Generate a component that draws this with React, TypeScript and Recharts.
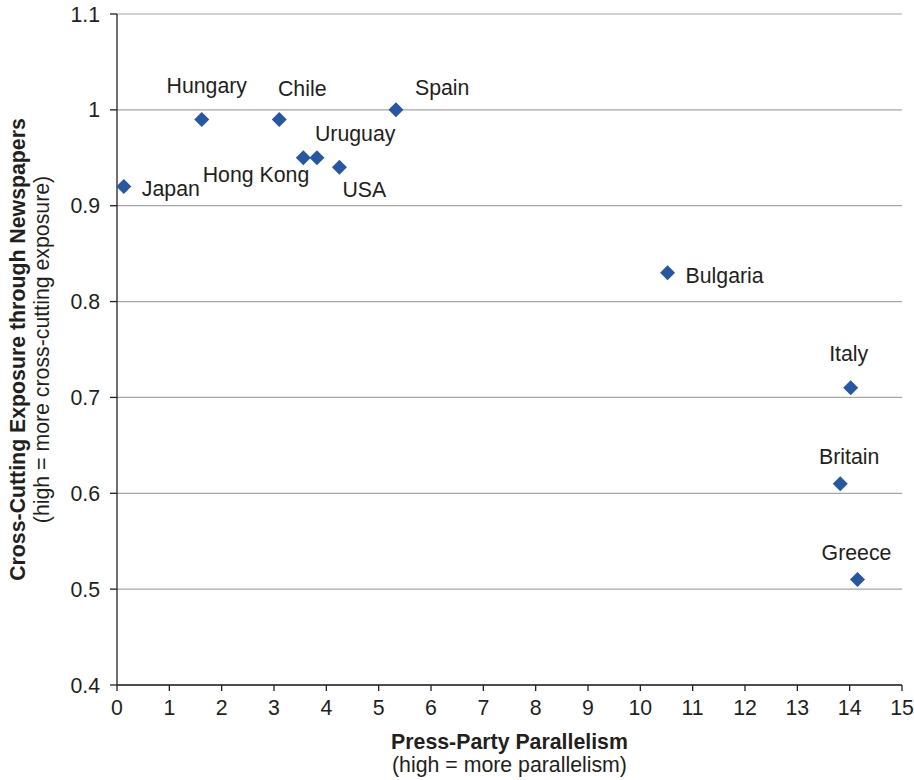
import { ScatterChart, Scatter, XAxis, YAxis, CartesianGrid, Label } from 'recharts'

const countries = ['Japan', 'Hungary', 'Chile', 'Hong Kong', 'Uruguay', 'USA', 'Spain', 'Bulgaria', 'Italy', 'Britain', 'Greece']
const parallelism = [0.13, 1.62, 3.1, 3.56, 3.82, 4.25, 5.33, 10.52, 14.02, 13.82, 14.15]
const exposure = [0.92, 0.99, 0.99, 0.95, 0.95, 0.94, 1.0, 0.83, 0.71, 0.61, 0.51]

const xTicks = [0, 1, 2, 3, 4, 5, 6, 7, 8, 9, 10, 11, 12, 13, 14, 15]
const yTicks = [0.4, 0.5, 0.6, 0.7, 0.8, 0.9, 1, 1.1]

const data = countries.map((name, i) => ({ name, x: parallelism[i], y: exposure[i] }))

// where each country's name sits relative to its marker
const labelPlacement: Record<string, { dx: number; dy: number; anchor: 'start' | 'middle' | 'end' }> = {
  Japan: { dx: 18, dy: 2, anchor: 'start' },
  Hungary: { dx: 5, dy: -33, anchor: 'middle' },
  Chile: { dx: 23, dy: -30, anchor: 'middle' },
  'Hong Kong': { dx: 6, dy: 17, anchor: 'end' },
  Uruguay: { dx: -2, dy: -24, anchor: 'start' },
  USA: { dx: 3, dy: 23, anchor: 'start' },
  Spain: { dx: 19, dy: -22, anchor: 'start' },
  Bulgaria: { dx: 18, dy: 3, anchor: 'start' },
  Italy: { dx: -2, dy: -34, anchor: 'middle' },
  Britain: { dx: 9, dy: -27, anchor: 'middle' },
  Greece: { dx: -1, dy: -27, anchor: 'middle' },
}

const FONT = '"Liberation Sans", Arial, sans-serif'
const SIZE = 21.3
const TEXT = '#231f20'
const MARK = '#2557a5'

const Diamond = (props: any) => {
  const { cx, cy, payload } = props
  const p = labelPlacement[payload.name]
  const r = 7.5
  return (
    <g>
      <polygon points={`${cx},${cy - r} ${cx + r},${cy} ${cx},${cy + r} ${cx - r},${cy}`} fill={MARK} />
      <text
        x={cx + p.dx}
        y={cy + p.dy}
        textAnchor={p.anchor}
        dominantBaseline="central"
        fontFamily={FONT}
        fontSize={SIZE}
        fill={TEXT}
      >
        {payload.name}
      </text>
    </g>
  )
}

const XTitle = (props: any) => {
  const { x, y, width } = props.viewBox
  const cx = x + width / 2
  return (
    <g fontFamily={FONT} fill={TEXT} textAnchor="middle">
      <text x={cx} y={y + 64} fontSize={SIZE} fontWeight="bold">Press-Party Parallelism</text>
      <text x={cx} y={y + 87} fontSize={SIZE}>(high = more parallelism)</text>
    </g>
  )
}

const YTitle = (props: any) => {
  const { y, height } = props.viewBox
  const cy = y + height / 2
  return (
    <g fontFamily={FONT} fill={TEXT} textAnchor="middle" dominantBaseline="central">
      <text x={18} y={cy} transform={`rotate(-90 18 ${cy})`} fontSize={SIZE} fontWeight="bold">
        Cross-Cutting Exposure through Newspapers
      </text>
      <text x={42} y={cy} transform={`rotate(-90 42 ${cy})`} fontSize={SIZE}>
        (high = more cross-cutting exposure)
      </text>
    </g>
  )
}

export default function App() {
  return (
    <div style={{ position: 'absolute', left: 0, top: 0, width: 914, height: 780, overflow: 'hidden' }}>
      <ScatterChart width={914} height={780} margin={{ top: 14, right: 12, bottom: 0, left: 0 }}>
        <CartesianGrid vertical={false} stroke="#a6a6a6" strokeWidth={1.2} />
        <XAxis
          type="number"
          dataKey="x"
          domain={[0, 15]}
          ticks={xTicks}
          interval={0}
          height={95}
          tickSize={6}
          tickMargin={9}
          stroke={TEXT}
          strokeWidth={1.3}
          tick={{ fontFamily: FONT, fontSize: SIZE, fill: TEXT }}
        >
          <Label content={XTitle} />
        </XAxis>
        <YAxis
          type="number"
          dataKey="y"
          domain={[0.4, 1.1]}
          ticks={yTicks}
          interval={0}
          width={117}
          tickSize={7}
          tickMargin={10}
          stroke={TEXT}
          strokeWidth={1.3}
          tick={{ fontFamily: FONT, fontSize: SIZE, fill: TEXT }}
        >
          <Label content={YTitle} />
        </YAxis>
        <Scatter data={data} shape={Diamond} isAnimationActive={false} />
      </ScatterChart>
    </div>
  )
}
